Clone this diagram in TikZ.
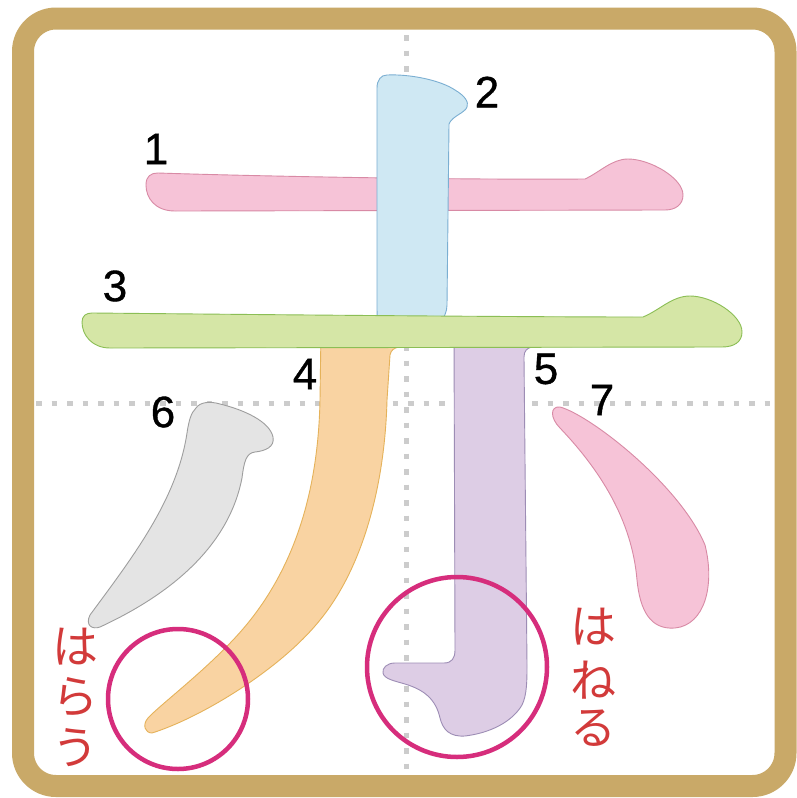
\documentclass[tikz,border=0pt]{standalone}
\usepackage{fontspec}
\setmainfont{Liberation Sans}
\newfontfamily\numfont{Liberation Sans}[FakeBold=0.8]
\newfontfamily\jpfont{Noto Sans CJK JP}
\definecolor{frameC}{HTML}{C9A968}
\definecolor{gridC}{HTML}{CCCCCC}
\definecolor{pinkF}{HTML}{F6C3D7}\definecolor{pinkD}{HTML}{D88AA5}
\definecolor{blueF}{HTML}{CFE8F3}\definecolor{blueD}{HTML}{7BAFD2}
\definecolor{greenF}{HTML}{D5E6A6}\definecolor{greenD}{HTML}{8BBE55}
\definecolor{orangeF}{HTML}{F9D3A2}\definecolor{orangeD}{HTML}{E5B25A}
\definecolor{purpleF}{HTML}{DDCDE5}\definecolor{purpleD}{HTML}{9D8DB5}
\definecolor{grayF}{HTML}{E4E4E4}\definecolor{grayD}{HTML}{9E9E9E}
\definecolor{ringC}{HTML}{D62D7C}
\definecolor{redT}{HTML}{D23A3A}
\begin{document}
\begin{tikzpicture}[x=1pt,y=-1pt,
  gridline/.style={gridC,line width=5pt,dash pattern=on 5.5pt off 10pt},
  strokeshape/.style={line width=0.9pt,line join=round},
  ring/.style={ringC,line width=4.5pt},
  numlabel/.style={inner sep=0pt,font=\numfont\fontsize{44}{44}\selectfont},
  jplabel/.style={inner sep=0pt,text=redT,font=\jpfont\fontsize{46}{46}\selectfont}]
\useasboundingbox (0,0) rectangle (796,798);
\fill[white] (0,0) rectangle (796,798);
% frame
\draw[frameC,line width=22pt,rounded corners=33pt] (23,18.5) rectangle (785.5,786);
% grid
\draw[gridline] (406,35) -- (406,775);
\draw[gridline] (36,403) -- (778,403);
% stroke 1
\path[strokeshape,fill=pinkF,draw=pinkD] (158,173) .. controls (250,176) and (450,180) .. (585,179)
  .. controls (600,172) and (612,159) .. (628,159) .. controls (650,159) and (683,178) .. (683,195)
  .. controls (683,205) and (675,210) .. (665,210) -- (175,211)
  .. controls (155,211) and (146,198) .. (146,185) .. controls (146,176) and (151,173) .. (158,173) -- cycle;
% stroke 2
\path[strokeshape,fill=blueF,draw=blueD] (387,75) .. controls (410,74) and (440,80) .. (455,90)
  .. controls (465,96) and (469,102) .. (467,107) .. controls (465,113) and (452,116) .. (449,124)
  -- (447,305) .. controls (447,312) and (444,316) .. (442,322) -- (378,322) .. controls (377,316) and (377,312) .. (377,305)
  -- (377,88) .. controls (377,80) and (381,75) .. (387,75) -- cycle;
% stroke 4
\path[strokeshape,fill=orangeF,draw=orangeD] (321,330) -- (320,400) .. controls (318,500) and (290,580) .. (233,640)
  .. controls (200,675) and (160,705) .. (148,718) .. controls (142,725) and (145,733) .. (152,733)
  .. controls (200,718) and (280,670) .. (320,620) .. controls (365,565) and (385,480) .. (387,400)
  -- (390,355) .. controls (391,350) and (394,348) .. (399,347) -- (399,330) -- cycle;
% stroke 5
\path[strokeshape,fill=purpleF,draw=purpleD] (454,330) -- (455,650) .. controls (455,658) and (452,663) .. (444,663)
  -- (395,663) .. controls (387,663) and (382,668) .. (383,673) .. controls (384,679) and (395,681) .. (405,684)
  .. controls (425,690) and (436,700) .. (440,718) .. controls (443,730) and (450,737) .. (465,736)
  .. controls (490,733) and (512,722) .. (522,705) .. controls (527,695) and (527,680) .. (527,665)
  -- (524,357) .. controls (524,351) and (527,348) .. (532,347) -- (532,330) -- cycle;
% stroke 3
\path[strokeshape,fill=greenF,draw=greenD] (92,313) .. controls (200,314) and (500,317) .. (643,317)
  .. controls (660,310) and (672,296) .. (690,296) .. controls (712,296) and (742,315) .. (742,332)
  .. controls (742,342) and (734,347) .. (722,347) -- (110,348)
  .. controls (92,348) and (82,335) .. (82,322) .. controls (82,316) and (86,313) .. (92,313) -- cycle;
% stroke 6
\path[strokeshape,fill=grayF,draw=grayD] (196,408) .. controls (200,402) and (210,401) .. (220,404)
  .. controls (245,410) and (270,422) .. (273,437) .. controls (275,447) and (265,451) .. (255,452)
  .. controls (246,453) and (244,462) .. (242,478) .. controls (230,540) and (180,590) .. (100,627)
  .. controls (92,630) and (85,625) .. (90,615) .. controls (132,558) and (177,500) .. (187,433)
  .. controls (189,420) and (191,413) .. (196,408) -- cycle;
% stroke 7
\path[strokeshape,fill=pinkF,draw=pinkD] (560,407) .. controls (590,415) and (680,485) .. (705,545)
  .. controls (715,585) and (705,625) .. (675,628) .. controls (650,630) and (640,610) .. (637,580)
  .. controls (632,520) and (600,470) .. (560,428) .. controls (550,418) and (550,406) .. (560,407) -- cycle;
% rings
\draw[ring] (178,699) circle[radius=70];
\draw[ring] (457,667) circle[radius=90];
% numbers
\node[numlabel] (n1) at (156,149) {1};
\node[numlabel] (n2) at (487,92) {2};
\node[numlabel] (n3) at (115,286) {3};
\node[numlabel] (n4) at (305,374) {4};
\node[numlabel] (n5) at (546,369) {5};
\node[numlabel] (n6) at (163,412) {6};
\node[numlabel] (n7) at (602,400) {7};
% japanese labels
\node[jplabel] (ha1) at (75,647) {は};
\node[jplabel] (ra1) at (75,697) {ら};
\node[jplabel] (u1) at (75,748) {う};
\node[jplabel] (ha2) at (593,627) {は};
\node[jplabel] (ne2) at (593,680) {ね};
\node[jplabel] (ru2) at (593,728) {る};
\end{tikzpicture}
\end{document}
